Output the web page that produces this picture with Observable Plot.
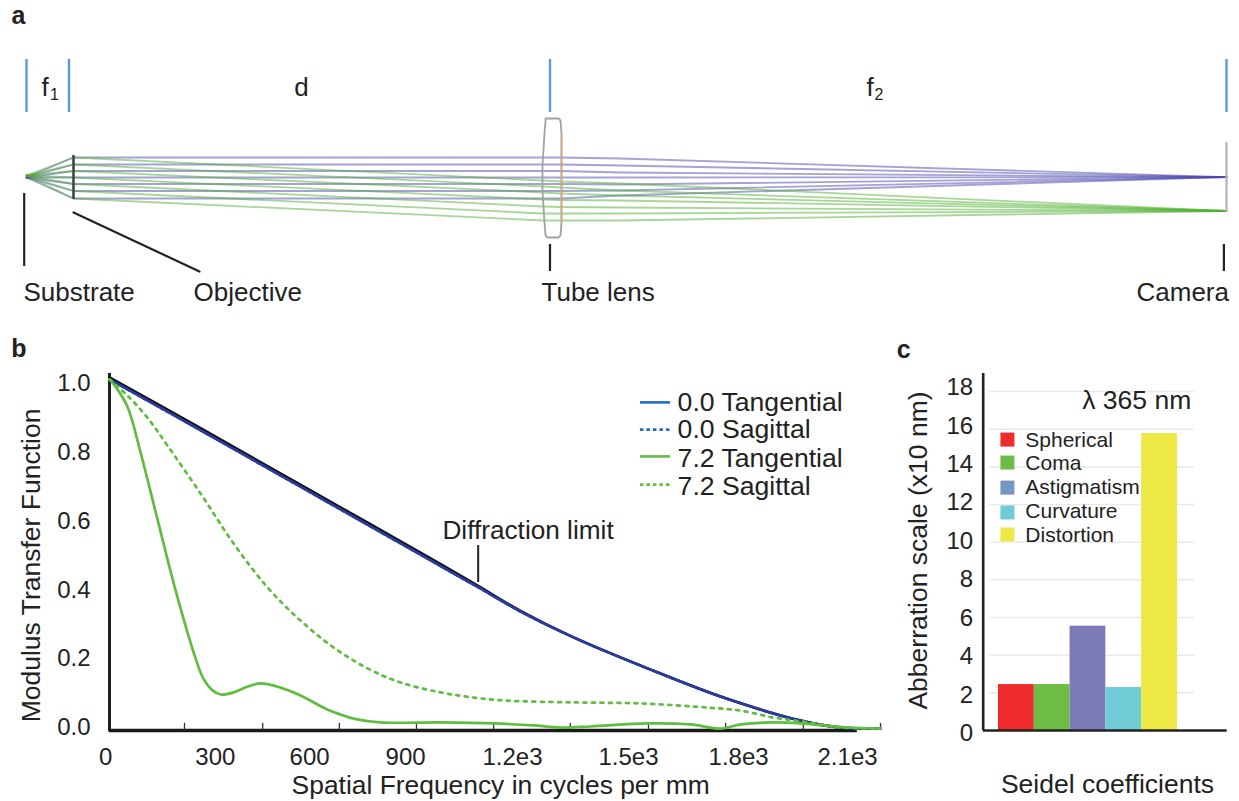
<!DOCTYPE html>
<html>
<head>
<meta charset="utf-8">
<script src="https://cdn.jsdelivr.net/npm/d3@7"></script>
<script src="https://cdn.jsdelivr.net/npm/@observablehq/plot@0.6"></script>
<style>
  html, body { margin: 0; padding: 0; background: #fff; }
  #fig { position: relative; width: 1239px; height: 801px; overflow: hidden; background: #fff; }
</style>
</head>
<body>
<div id="fig"></div>
<script>
// ---------- Panel a: ray diagram (positions along and across the optical axis, diagram units)
const rayStations   = [26, 73, 543, 560, 620, 1226];
const objectiveY    = [157, 164, 170.5, 177, 183.5, 190.5, 198];
const blueAt620     = [158, 165, 172, 177, 184, 190, 195];
const greenAtLensIn = [180, 186, 192, 199, 206, 213, 220];
const greenAtLensOut= [181, 187, 193, 199.5, 206.5, 213, 220];
const greenAt620    = [183, 190, 195, 200, 207, 213, 220];
const blueOriginY = 177, greenOriginY = 175, blueFocusY = 176.7, greenFocusY = 210.5;
const lensOutline = [[545,118],[558,118],[560,120],[561,133],[561,222],[560,235],[558,237],[547,237],[545,235],[544,222],[542,190],[542,165],[544,133],[545,120]];
const planes = [26, 68.5, 549.5, 1226];
const diagramLabels = ["Substrate", "Objective", "Tube lens", "Camera"];
const diagramLabelX = [23, 193, 541, 1136];

// ---------- Panel b: MTF curves (spatial frequency in cycles/mm, modulus)
const diffF = [0, 260, 437, 659, 876, 945, 1053, 1173, 1324, 1535, 1752, 1972, 2086, 2200];
const diffM = [1.018, 0.870, 0.768, 0.640, 0.515, 0.475, 0.411, 0.339, 0.262, 0.172, 0.087, 0.020, 0.000, -0.003];
const t00M  = [1.012, 0.864, 0.762, 0.634, 0.509, 0.469, 0.407, 0.337, 0.262, 0.172, 0.087, 0.020, 0.000, -0.003];
const t72F  = [0, 17, 51, 88, 137, 188, 245, 268, 294, 317, 354, 395, 431, 488, 545, 622, 659, 696, 773, 945, 1096, 1210, 1287, 1373, 1535, 1658, 1743, 1801, 1895, 1972, 2037, 2106, 2200];
const t72M  = [1.012, 0.991, 0.933, 0.802, 0.605, 0.401, 0.203, 0.142, 0.108, 0.096, 0.102, 0.119, 0.128, 0.116, 0.093, 0.052, 0.038, 0.026, 0.015, 0.015, 0.012, 0.006, 0.000, 0.003, 0.012, 0.009, -0.003, 0.009, 0.015, 0.012, 0.006, 0.000, -0.003];
const s72F  = [0, 51, 108, 165, 260, 354, 451, 545, 639, 736, 830, 945, 1039, 1136, 1324, 1515, 1706, 1801, 1895, 1992, 2086, 2200];
const s72M  = [1.012, 0.965, 0.901, 0.820, 0.680, 0.535, 0.407, 0.311, 0.233, 0.172, 0.131, 0.102, 0.087, 0.078, 0.073, 0.070, 0.058, 0.049, 0.029, 0.015, 0.000, -0.003];
const mtfYTicks = [0, 0.2, 0.4, 0.6, 0.8, 1.0];
const freqTickMarks = [214, 437, 656, 876, 1096, 1315, 1538, 1758, 1980, 2200];
const freqLabels  = ["0", "300", "600", "900", "1.2e3", "1.5e3", "1.8e3", "2.1e3"];
const freqLabelAt = [-11, 302, 571, 845, 1150, 1481, 1795, 2106];
const mtfLegendNames  = ["0.0 Tangential", "0.0 Sagittal", "7.2 Tangential", "7.2 Sagittal"];
const mtfLegendColors = ["#1f6fc0", "#1f6fc0", "#5fbd3f", "#5fbd3f"];
const mtfLegendDash   = ["none", "3.5,3", "none", "3.5,3"];
const mtfLegendLineY  = [0.945, 0.866, 0.788, 0.706];
const mtfLegendTextY  = [0.945, 0.866, 0.782, 0.702];

// ---------- Panel c: Seidel coefficients
const seidelNames  = ["Spherical", "Coma", "Astigmatism", "Curvature", "Distortion"];
const seidelValues = [2.44, 2.44, 5.54, 2.28, 15.77];
const seidelColors = ["#ee2a2a", "#6dbd45", "#7b7bb8", "#6fcbd6", "#eee845"];
const seidelKeyColors = ["#ee2a2a", "#6dbd45", "#7596c5", "#6fcbd6", "#eee845"];
const seidelKeyY   = [15.45, 14.23, 12.9, 11.58, 10.41];
const seidelTextY  = [15.4, 14.18, 12.9, 11.63, 10.36];
const seidelGrid   = [2, 4, 6, 8, 10, 12, 14, 16, 18];
const seidelLabels = [0, 2, 4, 6, 8, 10, 12, 14, 16, 18];

// ---------- Tables built from the arrays above
const ink = "#222";
const font = "'Liberation Sans', Arial, sans-serif";
const rays = objectiveY.flatMap((oy, i) => {
  const b = [blueOriginY, oy, oy, oy, blueAt620[i], blueFocusY];
  const g = [greenOriginY, oy, greenAtLensIn[i], greenAtLensOut[i], greenAt620[i], greenFocusY];
  return rayStations.flatMap((x, k) => [
    {ray: "b" + i, x, y: b[k]},
    {ray: "g" + i, x, y: g[k]}
  ]);
});
const blueRays = rays.filter(d => d.ray[0] === "b");
const greenRays = rays.filter(d => d.ray[0] === "g");
const series = (f, m) => f.map((x, i) => ({x, y: m[i]}));
const range = (n) => d3.range(n);

const base = (o) => ({
  style: {position: "absolute", left: o.left + "px", top: o.top + "px", fontFamily: font, background: "transparent", overflow: "visible", maxWidth: "none", color: ink},
  x: {axis: null, ...o.xs},
  y: {axis: null, ...o.ys},
  width: o.width, height: o.height,
  marginLeft: o.ml, marginRight: o.mr, marginTop: o.mt, marginBottom: o.mb
});

// ---------- Panel a
const panelA = Plot.plot({
  ...base({left: 0, top: 0, width: 1239, height: 330, ml: 0, mr: 0, mt: 0, mb: 0,
           xs: {domain: [0, 1239]}, ys: {domain: [330, 0]}}),
  marks: [
    Plot.ruleX(planes, {y1: 59, y2: 112, stroke: "#5b9bd5", strokeWidth: 2.4}),
    Plot.line(blueRays, {x: "x", y: "y", z: "ray", stroke: "#4a46ad", strokeOpacity: 0.5, strokeWidth: 1.8}),
    Plot.line(greenRays, {x: "x", y: "y", z: "ray", stroke: "#4fb030", strokeOpacity: 0.5, strokeWidth: 1.8}),
    Plot.line(lensOutline.concat([lensOutline[0]]), {x: d => d[0], y: d => d[1], stroke: "#a2a2a6", strokeWidth: 1.8}),
    Plot.ruleX([561], {y1: 133, y2: 222, stroke: "#d8a878", strokeWidth: 1.5}),
    Plot.ruleX([73], {y1: 155, y2: 199, stroke: "#444", strokeWidth: 2.6}),
    Plot.ruleX([1226], {y1: 142, y2: 212, stroke: "#b4b4b8", strokeWidth: 2.2}),
    Plot.ruleX([23.7], {y1: 193, y2: 266, stroke: ink, strokeWidth: 2.2}),
    Plot.line([[73, 212], [199, 271]], {x: d => d[0], y: d => d[1], stroke: ink, strokeWidth: 2.2}),
    Plot.ruleX([549.5], {y1: 244, y2: 271, stroke: ink, strokeWidth: 2.2}),
    Plot.ruleX([1223.4], {y1: 244, y2: 271, stroke: ink, strokeWidth: 2.2}),
    Plot.text(range(4), {x: i => diagramLabelX[i], y: 292, text: i => diagramLabels[i], textAnchor: "start", fontSize: 26, fill: ink}),
    Plot.text(["f"], {x: 41, y: 87, text: d => d, textAnchor: "start", fontSize: 26, fill: ink}),
    Plot.text(["1"], {x: 49.5, y: 94, text: d => d, textAnchor: "start", fontSize: 16, fill: ink}),
    Plot.text(["d"], {x: 301, y: 87, text: d => d, textAnchor: "middle", fontSize: 26, fill: ink}),
    Plot.text(["f"], {x: 866, y: 87, text: d => d, textAnchor: "start", fontSize: 26, fill: ink}),
    Plot.text(["2"], {x: 874, y: 94, text: d => d, textAnchor: "start", fontSize: 16, fill: ink}),
    Plot.text(["a"], {x: 11, y: 15, text: d => d, textAnchor: "start", fontSize: 25, fontWeight: 700, fill: ink})
  ]
});

// ---------- Panel b
const panelB = Plot.plot({
  ...base({left: 0, top: 330, width: 890, height: 471, ml: 109, mr: 10, mt: 43, mb: 71,
           xs: {domain: [0, 2200]}, ys: {domain: [-0.0087, 1.029]}}),
  color: {type: "identity"},
  marks: [
    Plot.ruleX([0], {y1: -0.0127, y2: 1.029, stroke: ink, strokeWidth: 3}),
    Plot.ruleY([-0.0087], {x1: 0, x2: 2134, stroke: "#1a1a1a", strokeWidth: 3.4}),
    Plot.ruleX(freqTickMarks, {y1: -0.0087, y2: 0.012, stroke: "#333", strokeWidth: 1.3}),
    Plot.axisY({ticks: mtfYTicks, tickSize: 0, tickPadding: 19, tickFormat: ".1f", fontSize: 24, label: null, fill: ink}),
    Plot.text(range(8), {x: i => freqLabelAt[i], y: -0.087, text: i => freqLabels[i], fontSize: 24, fill: ink}),
    Plot.text(["Spatial Frequency in cycles per mm"], {x: 1116, y: -0.169, text: d => d, fontSize: 26.4, fill: ink}),
    Plot.text(["Modulus Transfer Function"], {x: -223, y: 0.471, text: d => d, rotate: -90, fontSize: 26.5, fill: ink}),
    Plot.line(series(diffF, diffM), {x: "x", y: "y", stroke: "#111", strokeWidth: 2.6, curve: "catmull-rom"}),
    Plot.line(series(diffF, t00M), {x: "x", y: "y", stroke: "#2a3a9e", strokeWidth: 2.6, strokeDasharray: "3.5,3", curve: "catmull-rom"}),
    Plot.line(series(diffF, t00M), {x: "x", y: "y", stroke: "#2a3a9e", strokeWidth: 2.6, curve: "catmull-rom"}),
    Plot.line(series(s72F, s72M), {x: "x", y: "y", stroke: "#5fbd3f", strokeWidth: 2.7, strokeDasharray: "3,5.5", curve: "catmull-rom"}),
    Plot.line(series(t72F, t72M), {x: "x", y: "y", stroke: "#5fbd3f", strokeWidth: 2.7, curve: "catmull-rom"}),
    ...range(4).map(i => Plot.ruleY([mtfLegendLineY[i]], {x1: 1515, x2: 1601, stroke: mtfLegendColors[i], strokeDasharray: mtfLegendDash[i], strokeWidth: 2.6})),
    Plot.text(range(4), {x: 1621, y: i => mtfLegendTextY[i], text: i => mtfLegendNames[i], textAnchor: "start", fontSize: 26.6, fill: ink}),
    Plot.text(["Diffraction limit"], {x: 950, y: 0.573, text: d => d, textAnchor: "start", fontSize: 26.2, fill: ink}),
    Plot.ruleX([1052], {y1: 0.4215, y2: 0.529, stroke: ink, strokeWidth: 2}),
    Plot.text(["b"], {x: -280, y: 1.099, text: d => d, textAnchor: "start", fontSize: 25, fontWeight: 700, fill: ink})
  ]
});

// ---------- Panel c  (x unit: one bar width, bars start at 0)
const panelC = Plot.plot({
  ...base({left: 890, top: 330, width: 349, height: 471, ml: 92.7, mr: 12.3, mt: 43, mb: 71,
           xs: {domain: [-0.427, 6.39]}, ys: {domain: [0, 18.96]}}),
  color: {type: "identity"},
  marks: [
    Plot.ruleY(seidelGrid, {x1: -0.25, x2: 5.47, stroke: "#e9e9e9", strokeWidth: 1.5}),
    Plot.rectY(range(5), {x1: i => i, x2: i => i + 1, y: i => seidelValues[i], fill: i => seidelColors[i]}),
    Plot.ruleX([-0.427], {y1: 0, y2: 18.96, stroke: ink, strokeWidth: 2.6}),
    Plot.ruleY([0], {x1: -0.427, x2: 6.39, stroke: ink, strokeWidth: 2.6}),
    // the printed numerals sit slightly off their gridlines in the source
    Plot.text(seidelLabels, {x: -0.707, y: d => d * 1.0211 - 0.16, text: d => String(d), textAnchor: "end", fontSize: 24, fill: ink}),
    Plot.text(["Abberration scale (x10 nm)"], {x: -2.235, y: 9.56, text: d => d, rotate: -90, fontSize: 26.5, fill: ink}),
    Plot.text(["Seidel coefficients"], {x: 3.045, y: -2.87, text: d => d, fontSize: 26.5, fill: ink}),
    Plot.text(["\u03bb 365 nm"], {x: 2.34, y: 17.55, text: d => d, textAnchor: "start", fontSize: 26.5, fill: ink}),
    Plot.dot(range(5), {x: 0.25, y: i => seidelKeyY[i], symbol: "square", r: 7.9, fill: i => seidelKeyColors[i], stroke: "none"}),
    Plot.text(range(5), {x: 0.75, y: i => seidelTextY[i], text: i => seidelNames[i], textAnchor: "start", fontSize: 21, fill: ink}),
    Plot.text(["c"], {x: -2.84, y: 20.2, text: d => d, textAnchor: "start", fontSize: 25, fontWeight: 700, fill: ink})
  ]
});

const fig = document.getElementById("fig");
fig.append(panelA, panelB, panelC);
</script>
</body>
</html>
